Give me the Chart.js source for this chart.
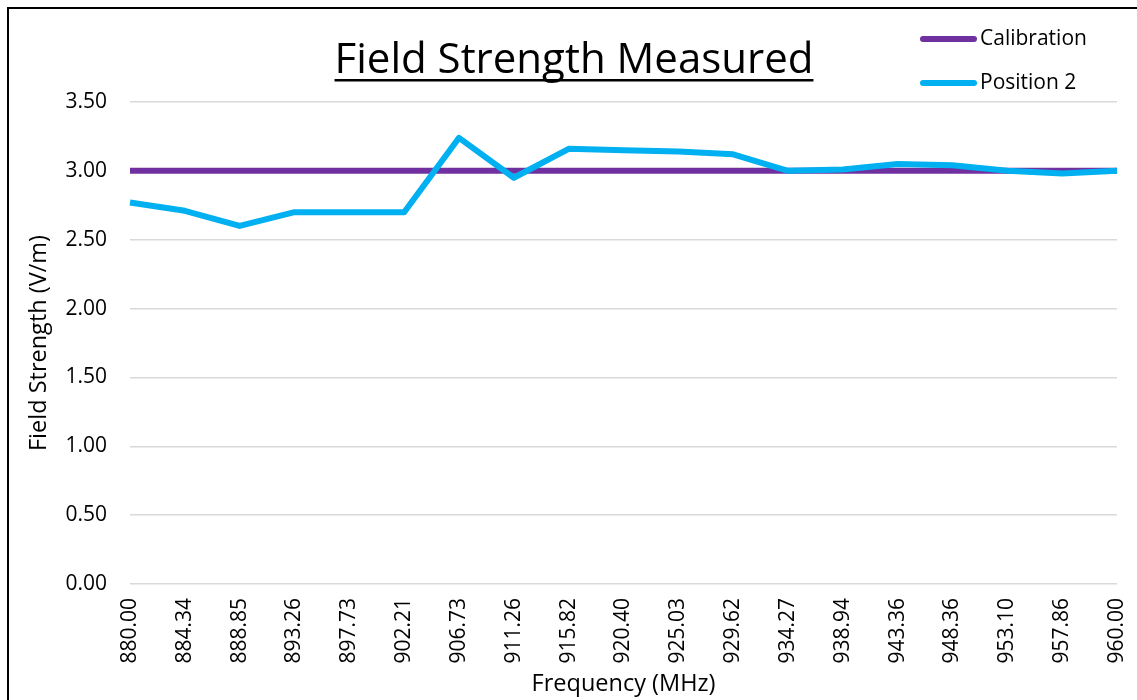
<!DOCTYPE html>
<html>
<head>
<meta charset="utf-8">
<script src="https://cdn.jsdelivr.net/npm/chart.js@4/dist/chart.umd.min.js"></script>
<style>
  html, body { margin: 0; padding: 0; background: #fff; }
  #wrap { width: 1137px; height: 700px; position: relative; }
</style>
</head>
<body>
<div id="wrap"><canvas id="c" width="1137" height="700"></canvas></div>
<script>
const frequencies = ["880.00","884.34","888.85","893.26","897.73","902.21","906.73","911.26","915.82","920.40","925.03","929.62","934.27","938.94","943.36","948.36","953.10","957.86","960.00"];
const calibration = [3.00,3.00,3.00,3.00,3.00,3.00,3.00,3.00,3.00,3.00,3.00,3.00,3.00,3.00,3.00,3.00,3.00,3.00,3.00];
const position2   = [2.77,2.71,2.60,2.70,2.70,2.70,3.24,2.95,3.16,3.15,3.14,3.12,3.00,3.01,3.05,3.04,3.00,2.98,3.00];
const seriesNames = ["Calibration","Position 2"];
const seriesColors = ["#7030A0","#00B0F0"];
const chartTitle = "Field Strength Measured";
const xTitle = "Frequency (MHz)";
const yTitle = "Field Strength (V/m)";

const FONT = "'Open Sans', 'Liberation Sans', sans-serif";

const decor = {
  id: 'decor',
  afterDraw(chart) {
    const ctx = chart.ctx;
    ctx.save();
    // frame
    ctx.strokeStyle = '#000';
    ctx.lineWidth = 2;
    ctx.strokeRect(8, 8, 1200, 800);
    // title with underline
    ctx.font = "42px " + FONT;
    ctx.fillStyle = '#000';
    ctx.textAlign = 'center';
    ctx.textBaseline = 'alphabetic';
    const cx = 574, by = 73;
    ctx.fillText(chartTitle, cx, by);
    const w = ctx.measureText(chartTitle).width;
    ctx.fillRect(cx - w / 2, by + 6, w, 2.5);
    // legend
    const ds = chart.data.datasets;
    const ys = [39, 83];
    ctx.font = "21px " + FONT;
    ctx.textAlign = 'left';
    ctx.textBaseline = 'middle';
    ds.forEach((d, i) => {
      ctx.strokeStyle = d.borderColor;
      ctx.lineWidth = 6;
      ctx.lineCap = 'round';
      ctx.beginPath();
      ctx.moveTo(923, ys[i]);
      ctx.lineTo(974, ys[i]);
      ctx.stroke();
      ctx.fillStyle = '#000';
      ctx.fillText(d.label, 980, ys[i]);
    });
    ctx.restore();
  }
};

new Chart(document.getElementById('c'), {
  type: 'line',
  data: {
    labels: frequencies,
    datasets: [
      { label: seriesNames[0], data: calibration, borderColor: seriesColors[0], backgroundColor: seriesColors[0], borderWidth: 6, pointRadius: 0, tension: 0, order: 1 },
      { label: seriesNames[1], data: position2, borderColor: seriesColors[1], backgroundColor: seriesColors[1], borderWidth: 6, pointRadius: 0, tension: 0, order: 0, borderJoinStyle: 'round' }
    ]
  },
  options: {
    responsive: false,
    animation: false,
    devicePixelRatio: 1,
    layout: { padding: { left: 0, top: 102, right: 20, bottom: 0 } },
    plugins: { legend: { display: false }, title: { display: false }, tooltip: { enabled: false } },
    scales: {
      x: {
        type: 'category',
        offset: false,
        grid: { display: false, drawTicks: false },
        border: { display: false },
        ticks: { color: '#000', font: { family: FONT, size: 21 }, minRotation: 90, maxRotation: 90, padding: 14, autoSkip: false },
        title: { display: true, text: xTitle, color: '#000', font: { family: FONT, size: 23.5 }, padding: { top: 0, bottom: 2 } },
        afterFit(s) { s.height = 116; s.paddingRight = 0; s.paddingLeft = 0; }
      },
      y: {
        min: 0, max: 3.5,
        grid: { color: '#d9d9d9', lineWidth: 1.5, drawTicks: false },
        border: { display: false },
        ticks: { stepSize: 0.5, color: '#000', font: { family: FONT, size: 21 }, padding: 23, callback: v => Number(v).toFixed(2) },
        title: { display: true, text: yTitle, color: '#000', font: { family: FONT, size: 23.5 }, padding: { top: 25, bottom: 0 } },
        afterFit(s) { s.width = 130; }
      }
    }
  },
  plugins: [decor]
});
</script>
</body>
</html>
